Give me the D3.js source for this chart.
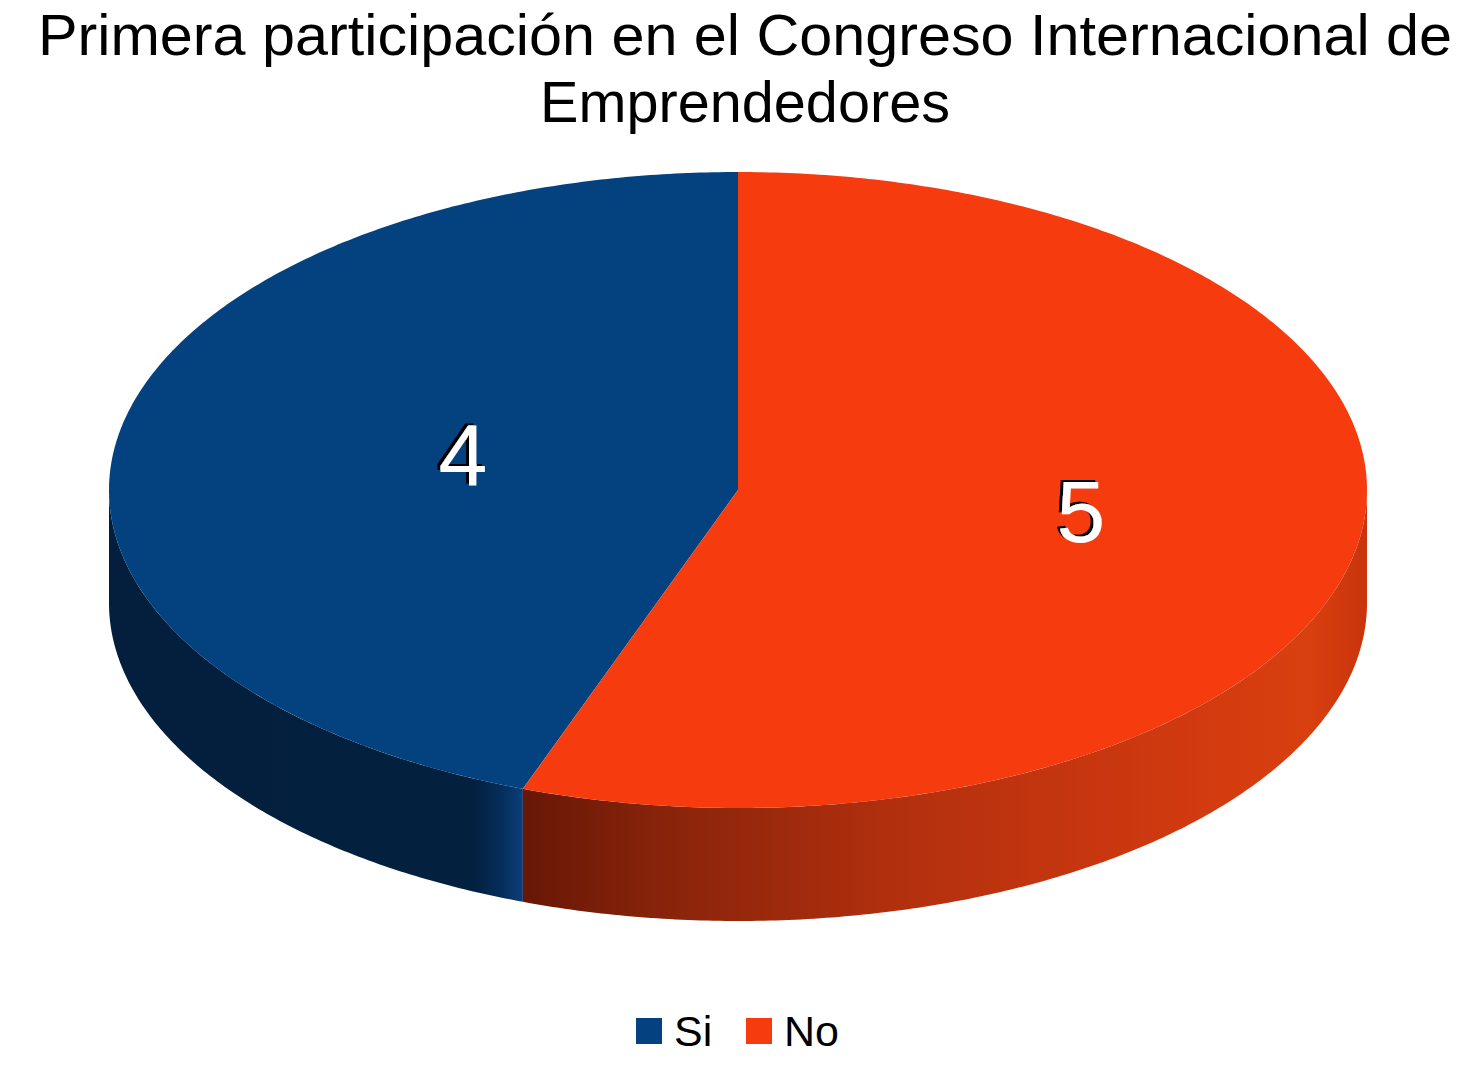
<!DOCTYPE html>
<html><head><meta charset="utf-8">
<script src="https://cdn.jsdelivr.net/npm/d3@7"></script>
<style>html,body{margin:0;padding:0;background:#fff;}svg{display:block;}</style>
</head><body>
<script>
const titleLines = ["Primera participación en el Congreso Internacional de", "Emprendedores"];
const categories = ["Si", "No"];
const values = [4, 5];
const topColors = ["#04417f", "#f63c0e"];

const W = 1475, H = 1066;
const cx = 738, cy = 490, rx = 629, ry = 318, depth = 113;

const svg = d3.select("body").append("svg").attr("width", W).attr("height", H);
const defs = svg.append("defs");

const shadow = defs.append("filter").attr("id","lblShadow").attr("x","-20%").attr("y","-20%").attr("width","140%").attr("height","140%");
shadow.append("feDropShadow").attr("dx",-3).attr("dy",-2).attr("stdDeviation",0.6).attr("flood-color","#000").attr("flood-opacity",1);

// side gradients
const gBlue = defs.append("linearGradient").attr("id","sideBlue").attr("gradientUnits","userSpaceOnUse")
  .attr("x1", cx - rx).attr("x2", cx - rx*0.34).attr("y1",0).attr("y2",0);
[[0,"#031f3d"],[0.88,"#03203f"],[0.95,"#062f5e"],[1,"#0b3f7c"]].forEach(([o,c])=>gBlue.append("stop").attr("offset",o).attr("stop-color",c));
const gRed = defs.append("linearGradient").attr("id","sideRed").attr("gradientUnits","userSpaceOnUse")
  .attr("x1", cx - rx*0.343).attr("x2", cx + rx).attr("y1",0).attr("y2",0);
[[0,"#671706"],[0.15,"#85230a"],[0.45,"#b3300e"],[0.8,"#d23a10"],[0.93,"#d8400f"],[1,"#c9340c"]].forEach(([o,c])=>gRed.append("stop").attr("offset",o).attr("stop-color",c));
const sideFills = ["url(#sideBlue)", "url(#sideRed)"];

const start = 2*Math.PI*values[1]/d3.sum(values);
const pie = d3.pie().sort(null).startAngle(start).endAngle(start + 2*Math.PI);
const arcs = pie(values);

const px = d3.scaleLinear().domain([-1,1]).range([cx - rx, cx + rx]);
const py = d3.scaleLinear().domain([-1,1]).range([cy - ry, cy + ry]);
const pt = (a, dy=0) => [px(Math.sin(a)), py(-Math.cos(a)) + dy];
const line = d3.line();

function sample(a0, a1, dy) {
  const n = Math.max(2, Math.ceil(Math.abs(a1-a0)/0.01));
  return d3.range(n+1).map(i => pt(a0 + (a1-a0)*i/n, dy));
}

// side walls (visible front half)
arcs.forEach((d,i) => {
  const segs = [];
  for (let k = -1; k <= 1; k++) {
    const lo = Math.PI/2 + k*2*Math.PI, hi = 3*Math.PI/2 + k*2*Math.PI;
    const a0 = Math.max(d.startAngle, lo), a1 = Math.min(d.endAngle, hi);
    if (a1 > a0) segs.push([a0,a1]);
  }
  segs.forEach(([a0,a1]) => {
    const pts = sample(a0,a1,0).concat(sample(a1,a0,depth));
    svg.append("path").attr("d", line(pts) + "Z").attr("fill", sideFills[i]);
  });
});

// top faces
arcs.forEach((d,i) => {
  const pts = [[cx,cy]].concat(sample(d.startAngle, d.endAngle, 0));
  svg.append("path").attr("d", line(pts) + "Z").attr("fill", topColors[i]);
});

// labels
const labelPos = [[463, 486], [1081, 542]];
arcs.forEach((d,i) => {
  const [x,y] = labelPos[i];
  svg.append("text").attr("x", x).attr("y", y).attr("text-anchor","middle")
    .attr("font-family","Liberation Sans, Arial, sans-serif").attr("font-size", 88).attr("fill","#fff")
    .attr("filter","url(#lblShadow)")
    .text(values[i]);
});

// title
const titleWidths = [1414, 410];
titleLines.forEach((t,i) => {
  svg.append("text").attr("x", 745).attr("y", 55 + i*67).attr("text-anchor","middle")
    .attr("font-family","Liberation Sans, Arial, sans-serif").attr("font-size", 58).attr("fill","#000")
    .attr("textLength", titleWidths[i]).attr("lengthAdjust","spacingAndGlyphs")
    .text(t);
});

// legend
const legX = [636, 746];
categories.forEach((c,i) => {
  svg.append("rect").attr("x", legX[i]).attr("y", 1018).attr("width", 26).attr("height", 26).attr("fill", topColors[i]);
  svg.append("text").attr("x", legX[i] + 38).attr("y", 1046)
    .attr("font-family","Liberation Sans, Arial, sans-serif").attr("font-size", 43).attr("fill","#000").text(c);
});
</script>
</body></html>
